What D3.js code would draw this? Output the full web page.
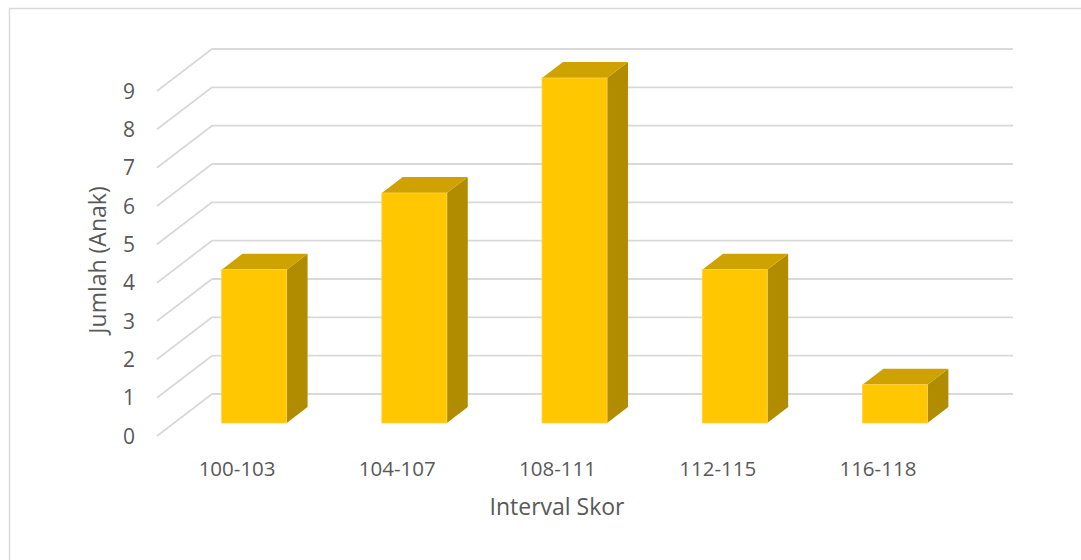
<!DOCTYPE html>
<html>
<head>
<meta charset="utf-8">
<script src="https://cdn.jsdelivr.net/npm/d3@7/dist/d3.min.js"></script>
<style>
  html, body { margin: 0; padding: 0; background: #fff; }
  svg { display: block; }
  text { font-family: "Open Sans", sans-serif; fill: #595959; }
</style>
</head>
<body>
<svg id="chart" width="1081" height="560"></svg>
<script>
// Frequency of scores per interval
const categories = ["100-103", "104-107", "108-111", "112-115", "116-118"];
const counts = [4, 6, 9, 4, 1];
const tickValues = [0, 1, 2, 3, 4, 5, 6, 7, 8, 9];
const xTitle = "Interval Skor";
const yTitle = "Jumlah (Anak)";

const svg = d3.select("#chart");

// Chart frame
svg.append("rect")
  .attr("x", 9.5).attr("y", 8.5)
  .attr("width", 1100).attr("height", 600)
  .attr("fill", "#fff")
  .attr("stroke", "#D9D9D9").attr("stroke-width", 1.5);

// Floor front edge spans x 157..958; the back wall is shifted by (depthX, depthY)
const depthX = 55, depthY = -42;
const x = d3.scaleBand().domain(categories).range([157, 958]).padding(0);
const y = d3.scaleLinear().domain([0, 9]).range([436, 91]);

// Gridlines: diagonal on the side wall plus horizontal line on the back wall
const grid = svg.append("g");
tickValues.forEach(v => {
  const yf = y(v);
  grid.append("path")
    .attr("d", `M${x.range()[0]},${yf} L${x.range()[0] + depthX},${yf + depthY} L${x.range()[1] + depthX},${yf + depthY}`)
    .attr("fill", "none")
    .attr("stroke", "#D9D9D9")
    .attr("stroke-width", 1.8)
    .attr("stroke-linejoin", "round");
});

// Y tick labels at the front edge
svg.append("g").selectAll("text")
  .data(tickValues)
  .join("text")
  .attr("x", 135)
  .attr("y", d => y(d))
  .attr("dy", "0.36em")
  .attr("text-anchor", "end")
  .attr("font-size", 21)
  .text(d => d);

// Bars sit in the middle of the floor depth
const f0 = 0.31, f1 = 0.69;
const barW = x.bandwidth() * 0.406;
const frontDx = depthX * f0, frontDy = depthY * f0;
const bdx = depthX * (f1 - f0), bdy = depthY * (f1 - f0);

const bars = svg.append("g").selectAll("g")
  .data(categories.map((c, i) => ({ c, v: counts[i] })))
  .join("g");

bars.each(function(d) {
  const g = d3.select(this);
  const x0 = x(d.c) + x.bandwidth() / 2 + frontDx - barW / 2;
  const x1 = x0 + barW;
  const yb = y(0) + frontDy;
  const yt = y(d.v) + frontDy;
  // side face
  g.append("path")
    .attr("d", `M${x1},${yt} L${x1 + bdx},${yt + bdy} L${x1 + bdx},${yb + bdy} L${x1},${yb} Z`)
    .attr("fill", "#B18B00");
  // top face
  g.append("path")
    .attr("d", `M${x0},${yt} L${x0 + bdx},${yt + bdy} L${x1 + bdx},${yt + bdy} L${x1},${yt} Z`)
    .attr("fill", "#CEA200");
  // front face
  g.append("rect")
    .attr("x", x0).attr("y", yt)
    .attr("width", barW).attr("height", yb - yt)
    .attr("fill", "#FFC700")
    .attr("stroke", "#FFD24A").attr("stroke-width", 0.8);
});

// Category labels
svg.append("g").selectAll("text")
  .data(categories)
  .join("text")
  .attr("x", d => x(d) + x.bandwidth() / 2)
  .attr("y", 476)
  .attr("text-anchor", "middle")
  .attr("font-size", 20.5)
  .text(d => d);

// Axis titles
svg.append("text")
  .attr("x", 557).attr("y", 515)
  .attr("text-anchor", "middle")
  .attr("font-size", 23)
  .text(xTitle);

svg.append("text")
  .attr("transform", "translate(106,260) rotate(-90)")
  .attr("text-anchor", "middle")
  .attr("font-size", 23)
  .text(yTitle);
</script>
</body>
</html>
